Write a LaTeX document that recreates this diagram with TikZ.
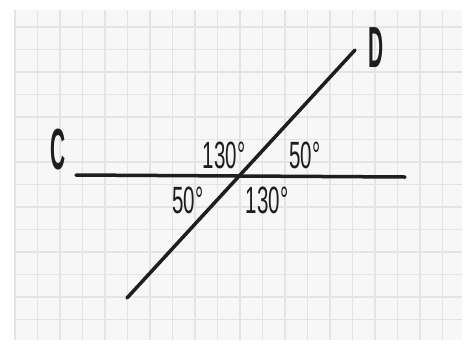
\documentclass[tikz,border=0pt]{standalone}
\usepackage{fontspec}
\setmainfont{Liberation Sans}
\definecolor{inkBlack}{RGB}{30, 30, 30}
\definecolor{paperGray}{RGB}{247, 247, 247}
\definecolor{gridGray}{RGB}{228, 228, 228}
\tikzset{
  angleLabel/.style={inner sep=0pt, xscale=0.54, text=inkBlack, font=\fontsize{38}{38}\selectfont},
  pointLabel/.style={inner sep=0pt, xscale=0.36, text=inkBlack, font=\bfseries\fontsize{58}{58}\selectfont},
  inkLine/.style={inkBlack, line width=3.5pt, line cap=round}
}

\begin{document}
\begin{tikzpicture}[x=1pt, y=-1pt]
        \useasboundingbox (0,0) rectangle (468,346);
        % squared paper
        \fill[paperGray] (14,10) rectangle (462,340);
        \foreach \gx in {15,37.5,...,460}
          \draw[gridGray, line width=1.2pt] (\gx,10) -- (\gx,340);
        \foreach \gy in {27,49.5,...,340}
          \draw[gridGray, line width=1.2pt] (14,\gy) -- (462,\gy);
        % end points of the two lines
        \coordinate (cEnd) at (76,175);
        \coordinate (rEnd) at (405,177);
        \coordinate (lowEnd) at (127,298);
        \coordinate (dEnd) at (355,50);
        \draw[inkLine] (cEnd) -- (rEnd);
        \draw[inkLine] (lowEnd) -- (dEnd);
        % letters
        \node[pointLabel] (labC) at (58,150) {C};
        \node[pointLabel] (labD) at (376,48) {D};
        % angles
        \node[angleLabel] (angTL) at (224,155) {130°};
        \node[angleLabel] (angTR) at (305,155) {50°};
        \node[angleLabel] (angBL) at (188,200) {50°};
        \node[angleLabel] (angBR) at (267,200) {130°};
      \end{tikzpicture}
\end{document}
